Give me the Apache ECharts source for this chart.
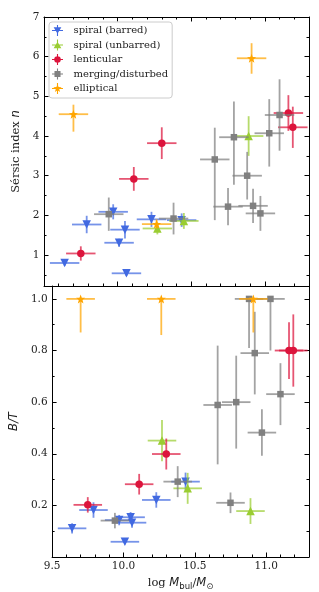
<!DOCTYPE html>
<html><head><meta charset="utf-8">
<script src="https://cdn.jsdelivr.net/npm/echarts@6/dist/echarts.min.js"></script>
<style>html,body{margin:0;padding:0;background:#fff}#c{width:319px;height:592px}</style>
</head><body><div id="c"></div>
<script>
// ---------------- data ----------------
const XERR = 0.1;
// spiral (barred)
const barredX    = [9.64, 9.79, 9.97, 10.01, 10.05, 10.06, 10.23, 10.435];
const barredN    = [0.80, 1.77, 2.09, 1.31, 1.64, 0.54, 1.90, 1.88];
const barredNErr = [0.07, 0.22, 0.19, 0.10, 0.22, 0.07, 0.19, 0.17];
const barredBT   = [0.111, 0.182, 0.143, 0.059, 0.154, 0.133, 0.221, 0.292];
const barredBTErr= [0.02, 0.03, 0.02, 0.01, 0.02, 0.02, 0.03, 0.035];
// spiral (unbarred)
const unbarX     = [10.27, 10.45, 10.89];
const unbarN     = [1.67, 1.86, 4.00];
const unbarNErr  = [0.15, 0.20, 0.50];
const unbarBT    = [0.451, 0.266, 0.178];
const unbarBTErr = [0.08, 0.06, 0.05];
// lenticular
const lentX      = [9.75, 10.11, 10.30, 11.16, 11.19];
const lentN      = [1.04, 2.92, 3.82, 4.58, 4.22];
const lentNErr   = [0.18, 0.30, 0.40, 0.45, 0.52];
const lentBT     = [0.202, 0.282, 0.399, 0.80, 0.80];
const lentBTErr  = [0.03, 0.04, 0.06, 0.11, 0.14];
// merging/disturbed
const mergX      = [9.94, 10.38, 10.66, 10.79, 10.88, 11.03, 11.10, 10.75, 10.92, 10.97];
const mergN      = [2.03, 1.92, 3.41, 3.97, 3.00, 4.07, 4.53, 2.22, 2.24, 2.05];
const mergNErrLo = [0.42, 0.40, 1.53, 1.20, 0.60, 0.84, 0.90, 0.47, 0.43, 0.44];
const mergNErrHi = [0.42, 0.40, 0.80, 0.90, 0.60, 0.86, 0.90, 0.47, 0.43, 0.44];
const mergBT     = [0.141, 0.292, 0.589, 0.600, 1.00, 1.00, 0.631, 0.210, 0.790, 0.482];
const mergBTErrLo= [0.03, 0.06, 0.23, 0.18, 0.19, 0.20, 0.12, 0.04, 0.16, 0.09];
const mergBTErrHi= [0.03, 0.06, 0.23, 0.18, 0.00, 0.00, 0.12, 0.04, 0.16, 0.09];
// elliptical
const ellX       = [9.70, 10.265, 10.91];
const ellN       = [4.55, 1.78, 5.96];
const ellNErrLo  = [0.44, 0.12, 0.39];
const ellNErrHi  = [0.24, 0.12, 0.38];
const ellBT      = [1.00, 1.00, 1.00];
const ellBTErrLo = [0.13, 0.14, 0.13];
const ellBTErrHi = [0.00, 0.00, 0.00];
// ticks
const xMajor = [9.5, 10.0, 10.5, 11.0];
const xMinor = [9.6, 9.7, 9.8, 9.9, 10.1, 10.2, 10.3, 10.4, 10.6, 10.7, 10.8, 10.9, 11.1, 11.2, 11.3];
const nMajor = [1, 2, 3, 4, 5, 6, 7];
const nMinor = [0.5, 1.5, 2.5, 3.5, 4.5, 5.5, 6.5];
const btMajor = [0.2, 0.4, 0.6, 0.8, 1.0];
const btMinor = [0.1, 0.3, 0.5, 0.7, 0.9];

// ---------------- helpers ----------------
const FONT = 'DejaVu Serif';
function starPath(cx, cy, R, r) {
  let d = '';
  for (let i = 0; i < 10; i++) {
    const ang = -Math.PI / 2 + i * Math.PI / 5;
    const rad = i % 2 === 0 ? R : r;
    d += (i === 0 ? 'M' : 'L') + (cx + rad * Math.cos(ang)).toFixed(2) + ',' + (cy + rad * Math.sin(ang)).toFixed(2) + ' ';
  }
  return d + 'Z';
}
const CROSS = 'M0,9 L20,9 L20,11 L0,11 Z M9,0 L11,0 L11,20 L9,20 Z ';
const STAR = 'path://' + starPath(10, 10, 10, 4.2);

const cats = [
  {name:'spiral (barred)', color:'#4169E1', symbol:'triangle', rot:180, size:8.5,
   icon:'path://' + CROSS + 'M3,4 L17,4 L10,16 Z',
   x:barredX, n:barredN, nLo:barredNErr, nHi:barredNErr, bt:barredBT, btLo:barredBTErr, btHi:barredBTErr},
  {name:'spiral (unbarred)', color:'#9ACD32', symbol:'triangle', rot:0, size:8.5,
   icon:'path://' + CROSS + 'M10,4 L17,16 L3,16 Z',
   x:unbarX, n:unbarN, nLo:unbarNErr, nHi:unbarNErr, bt:unbarBT, btLo:unbarBTErr, btHi:unbarBTErr},
  {name:'lenticular', color:'#DC143C', symbol:'circle', rot:0, size:7.5,
   icon:'path://' + CROSS + 'M4,10 A6,6 0 1,1 16,10 A6,6 0 1,1 4,10 Z',
   x:lentX, n:lentN, nLo:lentNErr, nHi:lentNErr, bt:lentBT, btLo:lentBTErr, btHi:lentBTErr},
  {name:'merging/disturbed', color:'#808080', symbol:'rect', rot:0, size:6.5,
   icon:'path://' + CROSS + 'M4.5,4.5 L15.5,4.5 L15.5,15.5 L4.5,15.5 Z',
   x:mergX, n:mergN, nLo:mergNErrLo, nHi:mergNErrHi, bt:mergBT, btLo:mergBTErrLo, btHi:mergBTErrHi},
  {name:'elliptical', color:'#FFA500', symbol:STAR, rot:0, size:9,
   icon:'path://' + CROSS + starPath(10, 10, 8, 3.3),
   x:ellX, n:ellN, nLo:ellNErrLo, nHi:ellNErrHi, bt:ellBT, btLo:ellBTErrLo, btHi:ellBTErrHi}
];

function errRender(color) {
  return function (params, api) {
    const x = api.value(0), y = api.value(1);
    const a = api.coord([api.value(2), y]), b = api.coord([api.value(3), y]);
    const c = api.coord([x, api.value(4)]), d = api.coord([x, api.value(5)]);
    const st = {stroke: color, lineWidth: 1.8, opacity: 0.72};
    return {type: 'group', children: [
      {type: 'line', shape: {x1: a[0], y1: a[1], x2: b[0], y2: b[1]}, style: st},
      {type: 'line', shape: {x1: c[0], y1: c[1], x2: d[0], y2: d[1]}, style: st}
    ]};
  };
}

const series = [];
cats.forEach((c, i) => {
  [[0, c.n, c.nLo, c.nHi], [4, c.bt, c.btLo, c.btHi]].forEach(([ax, ys, lo, hi]) => {
    series.push({
      type: 'custom', name: c.name, xAxisIndex: ax, yAxisIndex: ax, z: 2 + i * 2,
      renderItem: errRender(c.color), silent: true, clip: false,
      encode: {x: 0, y: 1},
      data: c.x.map((x, k) => [x, ys[k], x - XERR, x + XERR, ys[k] - lo[k], ys[k] + hi[k]])
    });
    series.push({
      type: 'scatter', name: c.name, xAxisIndex: ax, yAxisIndex: ax, z: 3 + i * 2,
      symbol: c.symbol, symbolRotate: c.rot, symbolSize: c.size, silent: true,
      itemStyle: {color: c.color, opacity: 1},
      data: c.x.map((x, k) => [x, ys[k]])
    });
  });
});

const AX = {color: '#000', width: 1};
const LBL = {fontFamily: FONT, fontSize: 10.5, color: '#222'};
function xAx(grid, pos, vals, len, line, label, extra) {
  return Object.assign({
    type: 'value', gridIndex: grid, position: pos, min: 9.5, max: 11.3,
    axisLine: {show: line, onZero: false, lineStyle: AX},
    axisTick: {show: true, inside: true, length: len, customValues: vals, lineStyle: AX},
    axisLabel: {show: label, customValues: vals, margin: 4, formatter: v => v.toFixed(1), ...LBL},
    splitLine: {show: false}
  }, extra || {});
}
function yAx(grid, pos, min, max, vals, len, line, label, fmt, extra) {
  return Object.assign({
    type: 'value', gridIndex: grid, position: pos, min: min, max: max,
    axisLine: {show: line, onZero: false, lineStyle: AX},
    axisTick: {show: true, inside: true, length: len, customValues: vals, lineStyle: AX},
    axisLabel: {show: label, customValues: vals, margin: 4.5, formatter: fmt, ...LBL},
    splitLine: {show: false}
  }, extra || {});
}
const fmtN = v => String(Math.round(v));
const fmtB = v => v.toFixed(1);

const option = {
  animation: false,
  backgroundColor: '#fff',
  grid: [
    {left: 44, right: 10, top: 17, height: 269},
    {left: 44, right: 10, top: 286, height: 271}
  ],
  xAxis: [
    xAx(0, 'bottom', xMajor, 4.5, true, false),
    xAx(0, 'bottom', xMinor, 2.5, false, false),
    xAx(0, 'top', xMajor, 4.5, true, false),
    xAx(0, 'top', xMinor, 2.5, false, false),
    xAx(1, 'bottom', xMajor, 4.5, true, true, {
      name: '{a|log }{i|M}{s|bul}{a|/}{i|M}{s|⊙}', nameLocation: 'middle', nameGap: 19,
      nameTextStyle: {rich: {
        a: {fontFamily: FONT, fontSize: 11.5, color: '#222'},
        i: {fontFamily: 'DejaVu Sans', fontStyle: 'italic', fontSize: 11.5, color: '#222'},
        s: {fontFamily: 'DejaVu Sans', fontSize: 8.5, color: '#222', padding: [6, 0, 0, 0]}
      }}
    }),
    xAx(1, 'bottom', xMinor, 2.5, false, false),
    xAx(1, 'top', [], 0, true, false, {axisTick: {show: false}}),
  ],
  yAxis: [
    yAx(0, 'left', 0.22, 7, nMajor, 4.5, true, true, fmtN, {
      name: '{a|Sérsic index }{i|n}', nameLocation: 'middle', nameGap: 12,
      nameTextStyle: {rich: {
        a: {fontFamily: FONT, fontSize: 11.5, color: '#222'},
        i: {fontFamily: 'DejaVu Sans', fontStyle: 'italic', fontSize: 11.5, color: '#222'}
      }}
    }),
    yAx(0, 'left', 0.22, 7, nMinor, 2.5, false, false, fmtN),
    yAx(0, 'right', 0.22, 7, nMajor, 4.5, true, false, fmtN),
    yAx(0, 'right', 0.22, 7, nMinor, 2.5, false, false, fmtN),
    yAx(1, 'left', 0, 1.05, btMajor, 4.5, true, true, fmtB, {
      name: 'B/T', nameLocation: 'middle', nameGap: 25,
      nameTextStyle: {fontFamily: 'DejaVu Sans', fontStyle: 'italic', fontSize: 11.5, color: '#222'}
    }),
    yAx(1, 'left', 0, 1.05, btMinor, 2.5, false, false, fmtB),
    yAx(1, 'right', 0, 1.05, btMajor, 4.5, true, false, fmtB),
    yAx(1, 'right', 0, 1.05, btMinor, 2.5, false, false, fmtB)
  ],
  legend: {
    left: 49, top: 22, orient: 'vertical',
    padding: [3, 4, 4, 3], itemGap: 3.5, itemWidth: 22, itemHeight: 11,
    symbolKeepAspect: true,
    backgroundColor: 'rgba(255,255,255,0.8)', borderColor: '#cccccc', borderWidth: 1, borderRadius: 3,
    textStyle: {fontFamily: FONT, fontSize: 10, color: '#222', lineHeight: 11},
    selectedMode: false,
    data: cats.map(c => ({name: c.name, icon: c.icon, itemStyle: {color: c.color}}))
  },
  series: series
};
const chart = echarts.init(document.getElementById('c'), null, {renderer: 'canvas'});
chart.setOption(option);
</script>
</body></html>
